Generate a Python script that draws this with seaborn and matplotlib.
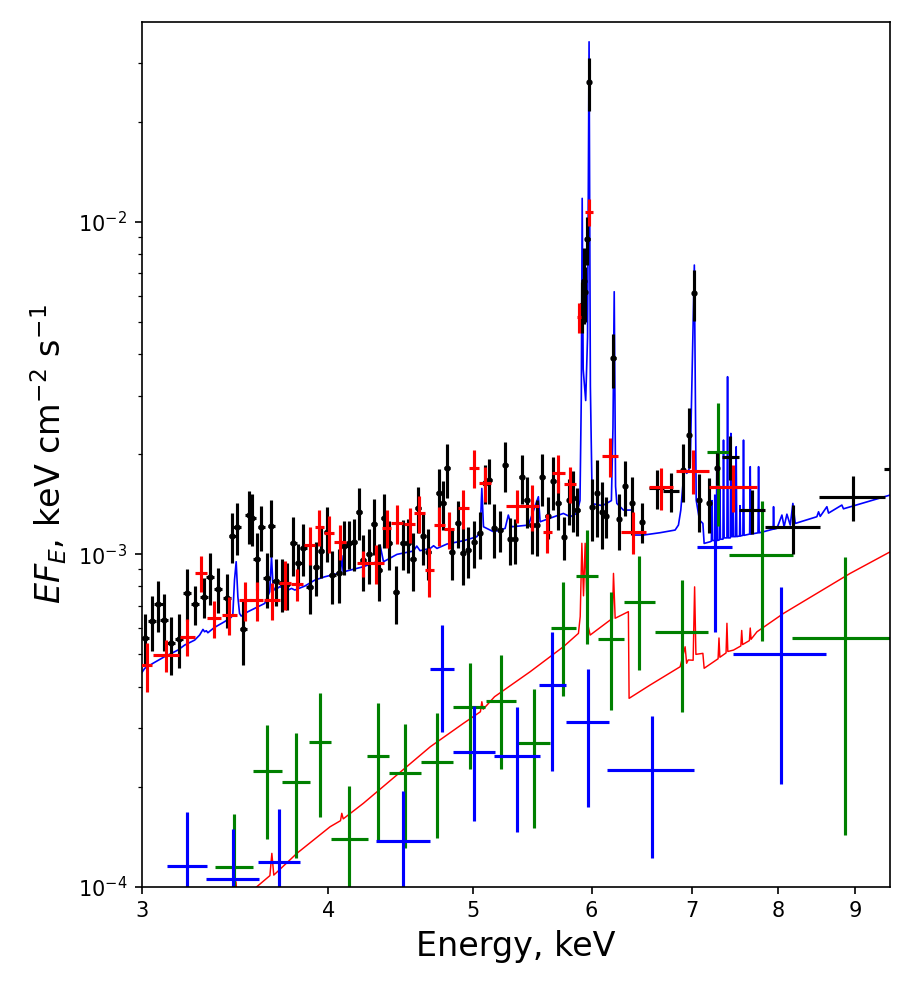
import matplotlib
matplotlib.use("Agg")
import matplotlib.pyplot as plt
from matplotlib.ticker import NullLocator, NullFormatter
import seaborn as sns

# ---- data (energy in keV, E*F_E in keV cm^-2 s^-1) ----

# black: finely binned spectrum
black_energy = [3.015, 3.047, 3.078, 3.106, 3.139, 3.179, 3.215, 3.257, 3.302, 3.334,
                3.376, 3.420, 3.450, 3.475, 3.509, 3.540, 3.558, 3.582, 3.606, 3.638,
                3.662, 3.689, 3.723, 3.752, 3.790, 3.819, 3.849, 3.885, 3.923, 3.955,
                3.990, 4.025, 4.064, 4.100, 4.131, 4.161, 4.192, 4.221, 4.257, 4.292,
                4.325, 4.360, 4.394, 4.439, 4.485, 4.520, 4.555, 4.590, 4.630, 4.666,
                4.743, 4.775, 4.800, 4.837, 4.882, 4.920, 4.963, 5.009, 5.048, 5.092,
                5.123, 5.163, 5.211, 5.251, 5.291, 5.332, 5.387, 5.429, 5.471, 5.513,
                5.562, 5.607, 5.657, 5.701, 5.751, 5.798, 5.834, 5.870, 5.910, 5.925,
                5.940, 5.961, 5.976, 6.007, 6.047, 6.094, 6.135, 6.205, 6.262, 6.317,
                6.383, 6.488, 6.905, 6.972, 7.028, 7.084, 7.190, 7.283]
black_flux = [5.61e-4, 6.30e-4, 7.08e-4, 6.34e-4, 5.40e-4, 5.57e-4, 7.66e-4, 7.08e-4, 7.45e-4, 8.56e-4,
              7.88e-4, 7.37e-4, 1.134e-3, 1.210e-3, 5.97e-4, 1.312e-3, 1.288e-3, 9.67e-4, 1.210e-3, 8.50e-4,
              1.216e-3, 8.32e-4, 8.21e-4, 8.12e-4, 1.078e-3, 9.39e-4, 1.046e-3, 7.99e-4, 9.17e-4, 1.023e-3,
              1.164e-3, 8.66e-4, 8.76e-4, 1.061e-3, 1.083e-3, 1.085e-3, 1.343e-3, 9.61e-4, 1.001e-3, 1.230e-3,
              8.96e-4, 1.282e-3, 1.078e-3, 7.68e-4, 1.083e-3, 1.078e-3, 9.67e-4, 1.374e-3, 1.134e-3, 1.013e-3,
              1.531e-3, 1.422e-3, 1.813e-3, 1.018e-3, 1.244e-3, 1.006e-3, 1.030e-3, 1.085e-3, 1.156e-3, 1.634e-3,
              1.672e-3, 1.196e-3, 1.182e-3, 1.855e-3, 1.108e-3, 1.108e-3, 1.703e-3, 1.455e-3, 1.224e-3, 1.224e-3,
              1.703e-3, 1.303e-3, 1.660e-3, 1.422e-3, 1.129e-3, 1.455e-3, 1.472e-3, 1.358e-3, 5.62e-3, 6.63e-3,
              6.15e-3, 8.87e-3, 2.63e-2, 1.390e-3, 1.525e-3, 1.342e-3, 1.303e-3, 3.88e-3, 1.274e-3, 1.604e-3,
              1.423e-3, 1.252e-3, 1.792e-3, 2.283e-3, 6.09e-3, 1.455e-3, 1.423e-3, 1.813e-3]
black_flux_err = [0.99e-4, 1.20e-4, 1.23e-4, 1.24e-4, 1.06e-4, 1.03e-4, 1.35e-4, 0.94e-4, 1.03e-4, 1.52e-4,
                  1.21e-4, 1.36e-4, 1.94e-4, 2.14e-4, 1.31e-4, 2.35e-4, 2.31e-4, 1.88e-4, 1.86e-4, 1.60e-4,
                  2.36e-4, 1.35e-4, 1.50e-4, 1.31e-4, 2.16e-4, 1.35e-4, 1.87e-4, 1.39e-4, 1.70e-4, 1.77e-4,
                  2.19e-4, 1.55e-4, 1.64e-4, 1.96e-4, 1.78e-4, 1.92e-4, 2.40e-4, 1.85e-4, 1.88e-4, 2.35e-4,
                  1.74e-4, 2.37e-4, 1.80e-4, 1.51e-4, 1.84e-4, 2.00e-4, 1.93e-4, 2.14e-4, 2.03e-4, 1.75e-4,
                  2.77e-4, 2.42e-4, 3.35e-4, 1.84e-4, 2.02e-4, 1.99e-4, 1.81e-4, 1.76e-4, 1.87e-4, 2.17e-4,
                  2.59e-4, 2.21e-4, 1.64e-4, 3.15e-4, 1.80e-4, 1.73e-4, 2.91e-4, 2.56e-4, 2.19e-4, 2.34e-4,
                  3.05e-4, 1.88e-4, 3.03e-4, 2.38e-4, 1.69e-4, 2.27e-4, 3.06e-4, 2.20e-4, 0.98e-3, 1.69e-3,
                  1.14e-3, 1.48e-3, 4.8e-3, 2.9e-4, 4.0e-4, 3.05e-4, 1.81e-4, 0.72e-3, 2.44e-4, 2.98e-4,
                  2.82e-4, 1.74e-4, 3.6e-4, 4.7e-4, 1.06e-3, 2.87e-4, 2.67e-4, 2.0e-4]
black_bin_halfwidth = 0.02

# black: grouped (wide) bins at high energy
black_wide_energy = [6.633, 6.781, 7.427, 7.680, 8.180, 8.972, 10.0]
black_wide_halfwidth = [0.077, 0.080, 0.096, 0.154, 0.348, 0.453, 0.59]
black_wide_flux = [1.578e-3, 1.549e-3, 1.965e-3, 1.358e-3, 1.205e-3, 1.489e-3, 1.804e-3]
black_wide_err = [2.14e-4, 2.12e-4, 2.97e-4, 2.08e-4, 2.03e-4, 2.28e-4, 2.5e-4]

# red spectrum
red_energy = [3.023, 3.115, 3.218, 3.287, 3.355, 3.434, 3.518, 3.582, 3.666, 3.742,
              3.810, 3.885, 3.945, 4.006, 4.072, 4.221, 4.305, 4.376, 4.445, 4.532,
              4.602, 4.673, 4.746, 4.819, 4.924, 5.006, 5.092, 5.346, 5.471, 5.604,
              5.700, 5.805, 5.885, 5.976, 6.173, 6.399, 6.677, 7.009, 7.465]
red_halfwidth = [0.026, 0.060, 0.037, 0.031, 0.037, 0.040, 0.033, 0.035, 0.045, 0.034,
                 0.034, 0.035, 0.025, 0.031, 0.035, 0.038, 0.050, 0.031, 0.040, 0.041,
                 0.039, 0.030, 0.043, 0.037, 0.044, 0.039, 0.048, 0.085, 0.060, 0.040,
                 0.059, 0.052, 0.020, 0.035, 0.079, 0.124, 0.120, 0.177, 0.278]
red_flux = [4.64e-4, 4.98e-4, 5.65e-4, 8.80e-4, 6.42e-4, 6.57e-4, 7.28e-4, 7.28e-4, 7.28e-4, 8.17e-4,
            8.13e-4, 1.066e-3, 1.210e-3, 1.156e-3, 1.091e-3, 9.39e-4, 9.39e-4, 1.202e-3, 1.238e-3, 1.230e-3,
            1.327e-3, 8.96e-4, 1.224e-3, 1.188e-3, 1.374e-3, 1.821e-3, 1.634e-3, 1.400e-3, 1.396e-3, 1.166e-3,
            1.758e-3, 1.626e-3, 5.16e-3, 1.072e-2, 1.973e-3, 1.169e-3, 1.589e-3, 1.784e-3, 1.596e-3]
red_flux_err = [0.78e-4, 0.55e-4, 0.72e-4, 1.09e-4, 0.82e-4, 0.87e-4, 0.97e-4, 0.97e-4, 0.93e-4, 1.37e-4,
                0.89e-4, 1.38e-4, 1.50e-4, 1.47e-4, 1.32e-4, 0.82e-4, 1.25e-4, 1.60e-4, 1.67e-4, 1.49e-4,
                1.69e-4, 1.50e-4, 1.63e-4, 1.51e-4, 1.83e-4, 2.42e-4, 2.0e-4, 1.57e-4, 2.2e-4, 1.57e-4,
                2.28e-4, 2.0e-4, 0.53e-3, 1.0e-3, 2.69e-4, 1.69e-4, 2.29e-4, 2.68e-4, 2.59e-4]

# green spectrum
green_energy = [3.459, 3.641, 3.804, 3.949, 4.131, 4.320, 4.504, 4.729, 4.971, 5.219,
                5.491, 5.744, 5.956, 6.182, 6.458, 6.894, 7.294, 7.799, 8.866]
green_halfwidth = [0.102, 0.080, 0.081, 0.066, 0.117, 0.074, 0.111, 0.116, 0.122, 0.122,
                   0.138, 0.111, 0.100, 0.123, 0.153, 0.284, 0.125, 0.385, 0.70]
green_flux = [1.143e-4, 2.228e-4, 2.060e-4, 2.724e-4, 1.394e-4, 2.472e-4, 2.198e-4, 2.366e-4, 3.479e-4, 3.626e-4,
              2.711e-4, 6.009e-4, 8.615e-4, 5.559e-4, 7.195e-4, 5.846e-4, 2.034e-3, 9.945e-4, 5.609e-4]
green_flux_err = [0.51e-4, 0.84e-4, 0.84e-4, 1.10e-4, 0.615e-4, 1.09e-4, 0.89e-4, 0.96e-4, 1.22e-4, 1.36e-4,
                  1.21e-4, 2.27e-4, 3.25e-4, 2.15e-4, 2.70e-4, 2.5e-4, 8.2e-4, 4.47e-4, 4.18e-4]

# blue spectrum
blue_energy = [3.218, 3.452, 3.707, 4.490, 4.763, 5.006, 5.351, 5.648, 5.965, 6.585, 7.257, 8.031]
blue_halfwidth = [0.097, 0.140, 0.119, 0.185, 0.087, 0.161, 0.186, 0.116, 0.198, 0.44, 0.195, 0.573]
blue_flux = [1.154e-4, 1.057e-4, 1.184e-4, 1.375e-4, 4.516e-4, 2.536e-4, 2.472e-4, 4.043e-4, 3.128e-4,
             2.244e-4, 1.053e-3, 5.000e-4]
blue_flux_err = [0.52e-4, 0.43e-4, 0.53e-4, 0.56e-4, 1.59e-4, 0.96e-4, 1.01e-4, 1.81e-4, 1.39e-4,
                 1.02e-4, 4.68e-4, 2.96e-4]

# blue model curve
blue_model_energy = [3.000, 3.014, 3.052, 3.107, 3.140, 3.172, 3.205, 3.255, 3.280, 3.297,
                     3.305, 3.314, 3.322, 3.356, 3.408, 3.443, 3.452, 3.461, 3.470, 3.479,
                     3.488, 3.497, 3.533, 3.589, 3.626, 3.654, 3.664, 3.673, 3.683, 3.711,
                     3.740, 3.759, 3.779, 3.798, 3.857, 3.917, 3.978, 4.061, 4.075, 4.083,
                     4.092, 4.221, 4.309, 4.331, 4.354, 4.445, 4.559, 4.583, 4.606, 4.679,
                     4.703, 4.728, 4.800, 4.924, 5.027, 5.053, 5.066, 5.079, 5.158, 5.251,
                     5.277, 5.305, 5.443, 5.527, 5.542, 5.744, 5.804, 5.864, 5.893, 5.905,
                     5.913, 5.922, 5.945, 5.962, 5.976, 5.988, 6.005, 6.100, 6.185, 6.200,
                     6.212, 6.225, 6.237, 6.301, 6.392, 6.406, 6.498, 6.667, 6.823, 6.858,
                     6.883, 6.918, 6.947, 6.983, 7.028, 7.048, 7.084, 7.121, 7.135, 7.202,
                     7.215, 7.222, 7.229, 7.270, 7.276, 7.283, 7.305, 7.310, 7.316, 7.345,
                     7.351, 7.358, 7.390, 7.397, 7.404, 7.428, 7.435, 7.442, 7.455, 7.460,
                     7.466, 7.489, 7.496, 7.503, 7.535, 7.540, 7.546, 7.574, 7.581, 7.588,
                     7.653, 7.660, 7.667, 7.752, 7.759, 7.766, 7.819, 7.935, 7.940, 7.946,
                     7.981, 8.043, 8.070, 8.105, 8.147, 8.180, 8.210, 8.488, 8.510, 8.532,
                     8.620, 8.642, 8.821, 8.843, 9.502]
blue_model_flux = [4.40e-4, 4.537e-4, 4.697e-4, 4.918e-4, 5.032e-4, 5.150e-4, 5.331e-4, 5.519e-4, 5.715e-4, 5.943e-4,
                   5.848e-4, 5.888e-4, 5.807e-4, 6.026e-4, 6.267e-4, 6.459e-4, 6.564e-4, 8.363e-4, 9.497e-4, 7.451e-4,
                   6.640e-4, 6.518e-4, 6.716e-4, 6.953e-4, 7.115e-4, 7.715e-4, 9.83e-4, 7.987e-4, 7.805e-4, 7.987e-4,
                   7.895e-4, 7.805e-4, 7.895e-4, 7.805e-4, 8.024e-4, 8.363e-4, 8.558e-4, 8.758e-4, 8.80e-4, 9.90e-4,
                   8.85e-4, 9.175e-4, 9.497e-4, 1.0655e-3, 9.497e-4, 9.992e-4, 1.0225e-3, 1.0585e-3, 1.025e-3, 1.0413e-3,
                   1.0608e-3, 1.0413e-3, 1.0731e-3, 1.0982e-3, 1.129e-3, 1.1687e-3, 1.578e-3, 1.2098e-3, 1.1687e-3, 1.1961e-3,
                   1.312e-3, 1.2098e-3, 1.2239e-3, 1.4895e-3, 1.2525e-3, 1.3269e-3, 1.2966e-3, 1.3269e-3, 1.45e-3, 3.0e-3,
                   1.176e-2, 3.6e-3, 2.9e-3, 4.5e-3, 3.478e-2, 3.2e-3, 1.42e-3, 1.40e-3, 1.45e-3, 2.4e-3,
                   6.16e-3, 1.6e-3, 1.4222e-3, 1.358e-3, 1.358e-3, 1.1424e-3, 1.1424e-3, 1.161e-3, 1.1826e-3, 1.2243e-3,
                   1.358e-3, 1.791e-3, 1.751e-3, 1.83e-3, 7.41e-3, 1.455e-3, 1.267e-3, 1.238e-3, 1.0781e-3, 1.0906e-3,
                   1.095e-3, 1.45e-3, 1.10e-3, 1.10e-3, 1.920e-3, 1.10e-3, 1.105e-3, 1.6e-3, 1.11e-3, 1.11e-3,
                   2.205e-3, 1.12e-3, 1.12e-3, 3.42e-3, 1.12e-3, 1.12e-3, 2.309e-3, 1.13e-3, 1.13e-3, 1.5e-3,
                   1.13e-3, 1.13e-3, 2.105e-3, 1.13e-3, 1.135e-3, 1.4e-3, 1.135e-3, 1.14e-3, 2.205e-3, 1.14e-3,
                   1.15e-3, 1.834e-3, 1.15e-3, 1.16e-3, 1.834e-3, 1.16e-3, 1.169e-3, 1.19e-3, 1.390e-3, 1.19e-3,
                   1.196e-3, 1.312e-3, 1.21e-3, 1.32e-3, 1.224e-3, 1.422e-3, 1.238e-3, 1.297e-3, 1.342e-3, 1.30e-3,
                   1.390e-3, 1.33e-3, 1.406e-3, 1.37e-3, 1.507e-3]

# red model curve
red_model_energy = [3.400, 3.460, 3.469, 3.478, 3.582, 3.655, 3.666, 3.677, 3.810, 4.010,
                    4.075, 4.083, 4.092, 4.221, 4.679, 4.924, 5.055, 5.066, 5.077, 5.166,
                    5.457, 5.744, 5.879, 5.895, 5.910, 5.925, 5.940, 5.962, 5.986, 6.173,
                    6.195, 6.205, 6.221, 6.349, 6.356, 6.565, 6.876, 6.929, 6.945, 6.962,
                    7.015, 7.031, 7.045, 7.121, 7.135, 7.290, 7.300, 7.310, 7.380, 7.390,
                    7.400, 7.465, 7.550, 7.560, 7.570, 7.650, 7.660, 7.670, 7.740, 8.063,
                    8.489, 8.935, 9.502]
red_model_flux = [8.0e-5, 8.85e-5, 1.035e-4, 8.9e-5, 1.0e-4, 1.08e-4, 1.26e-4, 1.084e-4, 1.26e-4, 1.515e-4,
                  1.58e-4, 1.663e-4, 1.60e-4, 1.782e-4, 2.636e-4, 3.100e-4, 3.36e-4, 3.601e-4, 3.42e-4, 3.728e-4,
                  4.432e-4, 5.270e-4, 5.783e-4, 6.5e-4, 1.079e-3, 7.5e-4, 1.079e-3, 6.2e-4, 5.715e-4, 6.34e-4,
                  6.4e-4, 8.76e-4, 6.42e-4, 6.72e-4, 3.687e-4, 4.043e-4, 4.589e-4, 5.27e-4, 4.7e-4, 4.81e-4,
                  4.8e-4, 7.98e-4, 5.0e-4, 5.035e-4, 4.54e-4, 4.85e-4, 5.6e-4, 4.9e-4, 5.05e-4, 6.2e-4,
                  5.1e-4, 5.15e-4, 5.3e-4, 5.9e-4, 5.35e-4, 5.5e-4, 6.0e-4, 5.55e-4, 5.846e-4, 6.64e-4,
                  7.63e-4, 8.76e-4, 1.017e-3]

x_tick_values = [3, 4, 5, 6, 7, 8, 9]
x_tick_labels = ['3', '4', '5', '6', '7', '8', '9']

# ---- plotting ----
sns.set_theme(style="ticks", rc={
    "axes.edgecolor": "black", "axes.labelcolor": "black", "text.color": "black",
    "xtick.color": "black", "ytick.color": "black", "axes.linewidth": 0.8,
    "xtick.major.size": 3.5, "ytick.major.size": 3.5,
    "xtick.minor.size": 2.0, "ytick.minor.size": 2.0,
    "xtick.major.width": 0.8, "ytick.major.width": 0.8,
    "xtick.minor.width": 0.6, "ytick.minor.width": 0.6,
    "xtick.labelsize": 10, "ytick.labelsize": 10, "axes.labelsize": 16,
    "lines.solid_capstyle": "projecting",
})
plt.rcParams['font.family'] = ['DejaVu Sans']

fig = plt.figure(figsize=(913 / 150, 990 / 150), dpi=150)
ax = fig.add_axes([0.1552, 0.1043, 0.8196, 0.8735])
ax.set_xscale('log')
ax.set_yscale('log')

# model curves
sns.lineplot(x=blue_model_energy, y=blue_model_flux, sort=False, estimator=None,
             color='blue', lw=0.8, ax=ax, zorder=1)
sns.lineplot(x=red_model_energy, y=red_model_flux, sort=False, estimator=None,
             color='red', lw=0.7, ax=ax, zorder=1)

# data
ax.errorbar(green_energy, green_flux, xerr=green_halfwidth, yerr=green_flux_err,
            fmt='none', ecolor='green', elinewidth=1.5, zorder=2)
ax.errorbar(blue_energy, blue_flux, xerr=blue_halfwidth, yerr=blue_flux_err,
            fmt='none', ecolor='blue', elinewidth=1.5, zorder=2)
ax.errorbar(black_energy, black_flux, xerr=black_bin_halfwidth, yerr=black_flux_err,
            fmt='o', color='black', ms=2, elinewidth=1.5, zorder=3)
ax.errorbar(black_wide_energy, black_wide_flux, xerr=black_wide_halfwidth, yerr=black_wide_err,
            fmt='none', ecolor='black', elinewidth=1.5, zorder=3)
ax.errorbar(red_energy, red_flux, xerr=red_halfwidth, yerr=red_flux_err,
            fmt='none', ecolor='red', elinewidth=1.5, zorder=4)

ax.set_xlim(3, 9.5)
ax.set_ylim(1e-4, 0.0399)
ax.set_xticks(x_tick_values)
ax.set_xticklabels(x_tick_labels)
ax.xaxis.set_minor_locator(NullLocator())
ax.xaxis.set_minor_formatter(NullFormatter())

ax.set_xlabel('Energy, keV')
ax.set_ylabel(r'$EF_E$, keV cm$^{-2}$ s$^{-1}$')

fig.savefig('out.png', dpi=150)
